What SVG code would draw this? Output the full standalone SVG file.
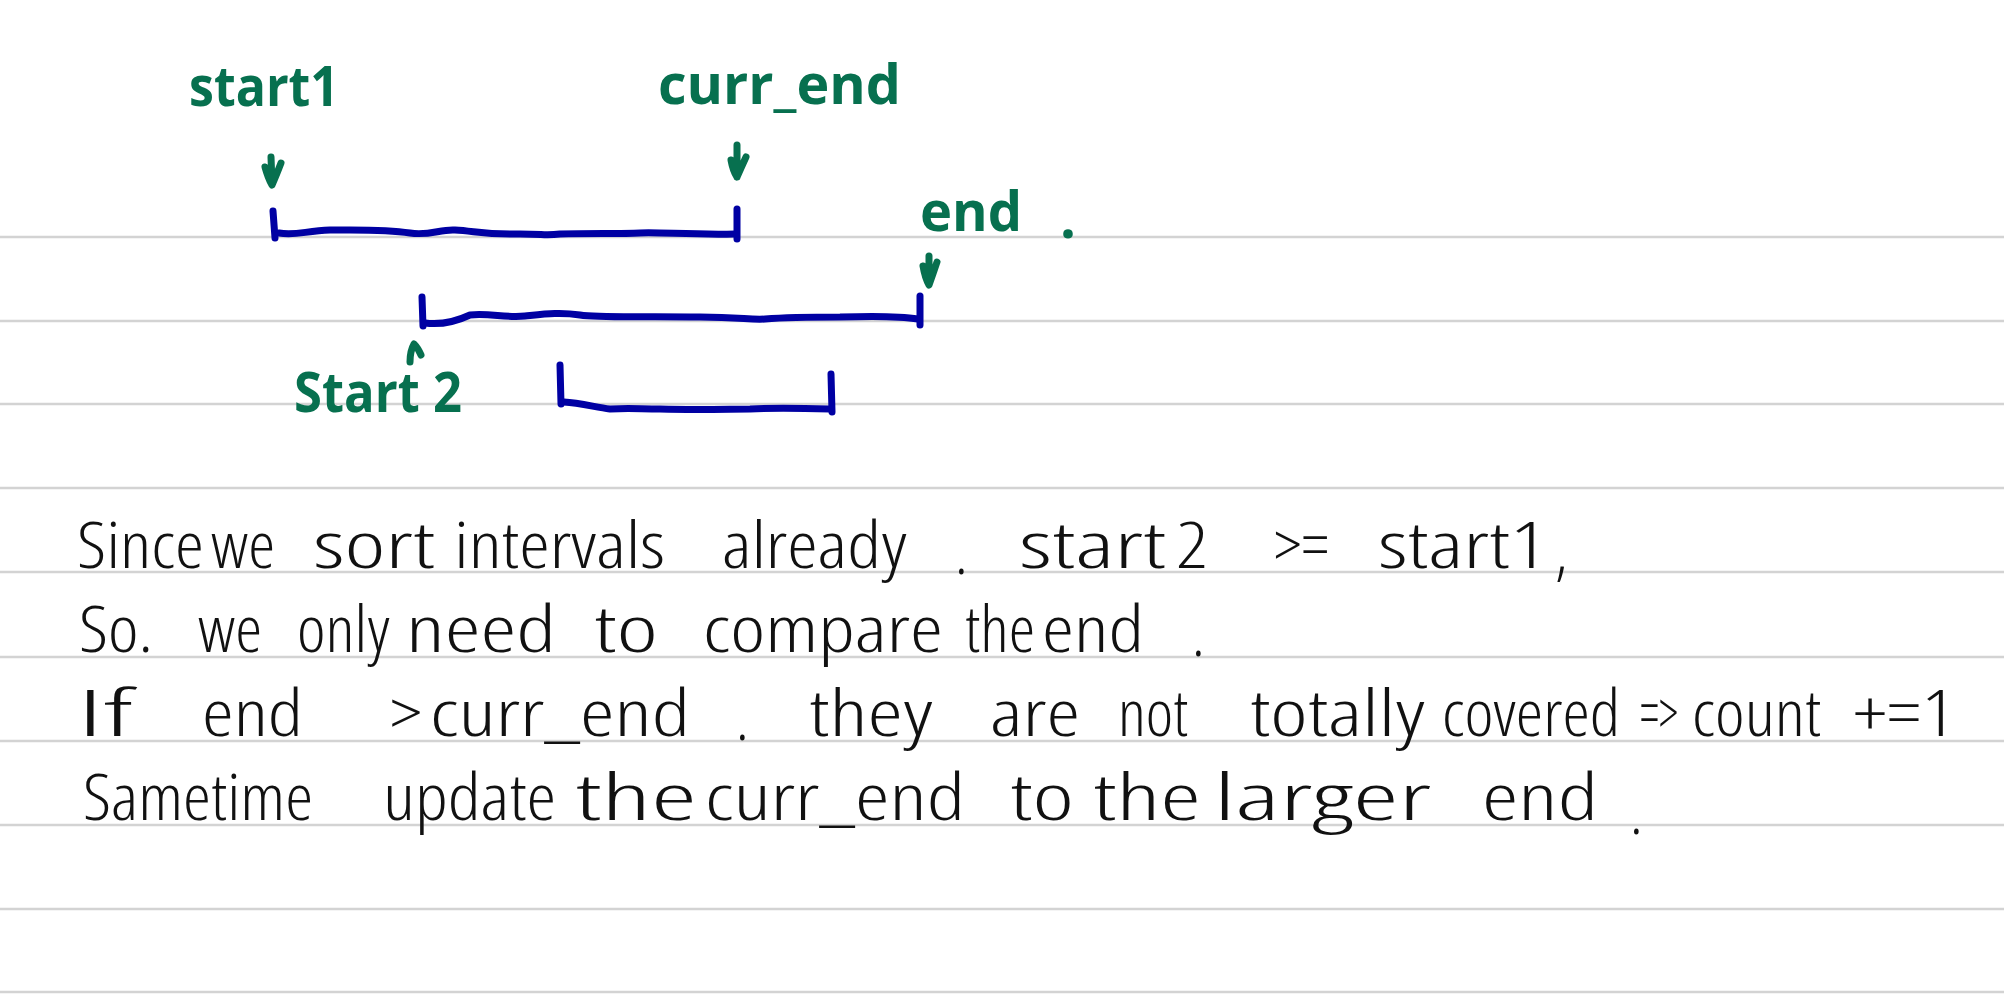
<svg xmlns="http://www.w3.org/2000/svg" width="2004" height="1000" viewBox="0 0 2004 1000">
<style>
.rule{stroke:#d3d3d3;stroke-width:2.5;fill:none}
.iv{stroke:#0000a3;stroke-width:7;fill:none;stroke-linecap:round;stroke-linejoin:round}
.ar{stroke:#07704f;stroke-width:7;fill:none;stroke-linecap:round;stroke-linejoin:round}
.g{font-family:"Open Sans","DejaVu Sans",sans-serif;font-weight:700;font-size:56px;fill:#07704f}
.t{font-family:"Open Sans","DejaVu Sans Condensed",sans-serif;font-weight:300;font-stretch:condensed;font-size:64px;fill:#111}
.w{font-stretch:semi-condensed}
</style>
<rect width="2004" height="1000" fill="#fff"/>
<g id="rules">
<line class="rule" x1="0" y1="237" x2="2004" y2="237"/>
<line class="rule" x1="0" y1="321" x2="2004" y2="321"/>
<line class="rule" x1="0" y1="404" x2="2004" y2="404"/>
<line class="rule" x1="0" y1="488" x2="2004" y2="488"/>
<line class="rule" x1="0" y1="572" x2="2004" y2="572"/>
<line class="rule" x1="0" y1="657" x2="2004" y2="657"/>
<line class="rule" x1="0" y1="741" x2="2004" y2="741"/>
<line class="rule" x1="0" y1="825" x2="2004" y2="825"/>
<line class="rule" x1="0" y1="909" x2="2004" y2="909"/>
<line class="rule" x1="0" y1="992" x2="2004" y2="992"/>
</g>
<g id="interval1">
<path class="iv" d="M273,211 L275,238"/>
<path class="iv" d="M737,209 L737,239"/>
<path class="iv" d="M279,233 C295,236 305,231 330,230 C355,230 385,229 410,233 C430,236 440,229 455,230 C475,231 485,235 520,234 C545,234 545,236 560,234 C590,233 620,234 640,233 C660,232 690,235 735,234"/>
</g>
<g id="interval2">
<path class="iv" d="M422,297 L423,326"/>
<path class="iv" d="M920,296 L920,325"/>
<path class="iv" d="M425,323 C440,325 455,322 470,315 C490,313 505,318 525,316 C545,314 560,312 580,315 C600,318 640,316 700,317 C740,317 750,320 765,319 C790,317 820,317 840,317 C870,316 900,316 918,319"/>
</g>
<g id="interval3">
<path class="iv" d="M560,365 L561,404"/>
<path class="iv" d="M831,374 L832,412"/>
<path class="iv" d="M564,402 C580,403 595,407 610,409 C630,408 640,409 660,409 C700,410 730,409 750,409 C770,408 790,408 830,409"/>
</g>
<g id="label-start1"><text class="g" x="189" y="106" textLength="150" lengthAdjust="spacingAndGlyphs">start1</text></g>
<g id="label-curr-end"><text class="g" x="658" y="104" textLength="243" lengthAdjust="spacingAndGlyphs">curr_end</text></g>
<g id="label-end"><text class="g" x="920" y="231" textLength="102" lengthAdjust="spacingAndGlyphs">end</text><text class="g" x="1060" y="238">.</text></g>
<g id="label-start2"><text class="g" x="294" y="412" textLength="168" lengthAdjust="spacingAndGlyphs">Start 2</text></g>
<g id="connectors">
<path class="ar" d="M271,157 L272,184 M265,167 Q268,178 272,185 Q276,176 281,163"/>
<path class="ar" d="M737,145 L737,177 M731,160 Q733,171 737,177 Q741,168 746,157"/>
<path class="ar" d="M929,256 L929,284 M923,266 Q925,278 929,285 Q933,274 937,262"/>
<path class="ar" d="M410,362 Q410,351 414,344 Q418,348 421,355"/>
</g>
<g id="note">
<text class="t" x="77" y="568" textLength="127" lengthAdjust="spacingAndGlyphs">Since</text>
<text class="t" x="211" y="568" textLength="64" lengthAdjust="spacingAndGlyphs">we</text>
<text class="t w" x="313" y="568" textLength="122" lengthAdjust="spacingAndGlyphs">sort</text>
<text class="t" x="454" y="568" textLength="211" lengthAdjust="spacingAndGlyphs">intervals</text>
<text class="t" x="722" y="568" textLength="185" lengthAdjust="spacingAndGlyphs">already</text>
<text class="t" x="955" y="574">.</text>
<text class="t w" x="1019" y="568" textLength="147" lengthAdjust="spacingAndGlyphs">start</text>
<text class="t w" x="1176" y="568" textLength="32" lengthAdjust="spacingAndGlyphs">2</text>
<text class="t" x="1274" y="568" textLength="55" lengthAdjust="spacingAndGlyphs">&gt;=</text>
<text class="t w" x="1378" y="568" textLength="169" lengthAdjust="spacingAndGlyphs">start1</text>
<text class="t" x="1555" y="574">,</text>

<text class="t" x="79" y="652" textLength="74" lengthAdjust="spacingAndGlyphs">So.</text>
<text class="t" x="198" y="652" textLength="64" lengthAdjust="spacingAndGlyphs">we</text>
<text class="t" x="297" y="652" textLength="93" lengthAdjust="spacingAndGlyphs">only</text>
<text class="t w" x="406" y="652" textLength="150" lengthAdjust="spacingAndGlyphs">need</text>
<text class="t w" x="594" y="652" textLength="64" lengthAdjust="spacingAndGlyphs">to</text>
<text class="t" x="703" y="652" textLength="240" lengthAdjust="spacingAndGlyphs">compare</text>
<text class="t" x="965" y="652" textLength="70" lengthAdjust="spacingAndGlyphs">the</text>
<text class="t" x="1042" y="652" textLength="102" lengthAdjust="spacingAndGlyphs">end</text>
<text class="t" x="1192" y="656">.</text>

<text class="t w" x="77" y="736" textLength="57" lengthAdjust="spacingAndGlyphs">If</text>
<text class="t" x="202" y="736" textLength="101" lengthAdjust="spacingAndGlyphs">end</text>
<text class="t" x="390" y="736" textLength="32" lengthAdjust="spacingAndGlyphs">&gt;</text>
<text class="t w" x="430" y="736" textLength="260" lengthAdjust="spacingAndGlyphs">curr_end</text>
<text class="t" x="736" y="740">.</text>
<text class="t" x="809" y="736" textLength="124" lengthAdjust="spacingAndGlyphs">they</text>
<text class="t" x="990" y="736" textLength="90" lengthAdjust="spacingAndGlyphs">are</text>
<text class="t" x="1118" y="736" textLength="70" lengthAdjust="spacingAndGlyphs">not</text>
<text class="t" x="1250" y="736" textLength="175" lengthAdjust="spacingAndGlyphs">totally</text>
<text class="t" x="1442" y="736" textLength="178" lengthAdjust="spacingAndGlyphs">covered</text>
<text class="t" x="1640" y="736" textLength="38" lengthAdjust="spacingAndGlyphs">=&gt;</text>
<text class="t" x="1692" y="736" textLength="129" lengthAdjust="spacingAndGlyphs">count</text>
<text class="t" x="1853" y="736" textLength="102" lengthAdjust="spacingAndGlyphs">+=1</text>

<text class="t" x="83" y="820" textLength="230" lengthAdjust="spacingAndGlyphs">Sametime</text>
<text class="t" x="383" y="820" textLength="173" lengthAdjust="spacingAndGlyphs">update</text>
<text class="t w" x="575" y="820" textLength="122" lengthAdjust="spacingAndGlyphs">the</text>
<text class="t" x="705" y="820" textLength="260" lengthAdjust="spacingAndGlyphs">curr_end</text>
<text class="t w" x="1010" y="820" textLength="64" lengthAdjust="spacingAndGlyphs">to</text>
<text class="t w" x="1093" y="820" textLength="108" lengthAdjust="spacingAndGlyphs">the</text>
<text class="t w" x="1214" y="820" textLength="217" lengthAdjust="spacingAndGlyphs">larger</text>
<text class="t w" x="1482" y="820" textLength="116" lengthAdjust="spacingAndGlyphs">end</text>
<text class="t" x="1630" y="834">.</text>
</g>
</svg>
